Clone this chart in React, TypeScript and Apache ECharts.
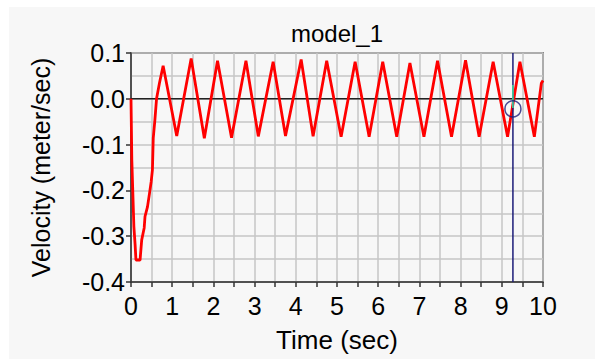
import React, { useEffect, useRef } from "react";
import * as echarts from "echarts";

// Time (sec) and velocity (meter/sec)
const timeSec: number[] = [
  0, 0.02, 0.07, 0.1, 0.12, 0.22, 0.26, 0.32, 0.34, 0.4, 0.45, 0.49, 0.52, 0.54, 0.58, 0.62, 0.69, 0.78,
  1.11, 1.46, 1.78, 2.1, 2.44, 2.79, 3.09, 3.45, 3.75, 4.13, 4.42, 4.75, 5.1, 5.44, 5.78, 6.11, 6.45,
  6.77, 7.11, 7.44, 7.78, 8.12, 8.45, 8.79, 9.14, 9.44, 9.79, 9.96, 10,
];
const velocity: number[] = [
  0, -0.134, -0.279, -0.319, -0.352, -0.352, -0.308, -0.282, -0.257, -0.236, -0.206, -0.181, -0.155,
  -0.086, -0.046, 0.0, 0.034, 0.072,
  -0.081, 0.088, -0.086, 0.083, -0.085, 0.083, -0.082, 0.081, -0.081, 0.086, -0.082, 0.083, -0.083,
  0.081, -0.083, 0.081, -0.083, 0.078, -0.083, 0.083, -0.083, 0.084, -0.083, 0.081, -0.083, 0.081,
  -0.083, 0.034, 0.04,
];

const xTicks = { min: 0, max: 10, interval: 1 };
const yTicks = { min: -0.4, max: 0.1, interval: 0.1 };

const cursorTime = 9.27;
const cursorValue = -0.022;
const cursorGreen: number[] = [0.03, -0.02];

const title = "model_1";
const xName = "Time (sec)";
const yName = "Velocity (meter/sec)";

const FONT = "'Liberation Sans', Arial, Helvetica, sans-serif";

export default function App() {
  const ref = useRef<HTMLDivElement>(null);

  useEffect(() => {
    document.body.style.margin = "0";
    if (!ref.current) return;
    const chart = echarts.init(ref.current, undefined, { renderer: "svg" });

    const lineData = timeSec.map((t, i) => [t, velocity[i]]);

    chart.setOption({
      animation: false,
      backgroundColor: "transparent",
      textStyle: { fontFamily: FONT },
      graphic: [
        {
          type: "text",
          x: 337,
          y: 33,
          style: {
            text: title,
            fontSize: 24,
            fontFamily: FONT,
            fill: "#000",
            align: "center",
            verticalAlign: "middle",
          },
        },
      ],
      grid: {
        left: 131,
        right: 52,
        top: 53,
        bottom: 77,
        show: true,
        borderColor: "#333",
        borderWidth: 1.5,
        backgroundColor: "transparent",
      },
      xAxis: {
        type: "value",
        min: xTicks.min,
        max: xTicks.max,
        interval: xTicks.interval,
        name: xName,
        nameLocation: "middle",
        nameGap: 45,
        nameTextStyle: { fontSize: 26, color: "#000", fontFamily: FONT },
        axisLine: { show: true, onZero: false, lineStyle: { color: "#333", width: 1.5 } },
        axisTick: { show: true, length: 5, lineStyle: { color: "#333", width: 1.5 } },
        minorTick: { show: true, splitNumber: 2, length: 5, lineStyle: { color: "#333", width: 1.5 } },
        splitLine: { show: true, lineStyle: { color: "#c6c6c6", width: 1.5 } },
        minorSplitLine: { show: true, lineStyle: { color: "#c6c6c6", width: 1.5 } },
        axisLabel: { fontSize: 25, color: "#000", margin: 11, fontFamily: FONT },
      },
      yAxis: {
        type: "value",
        min: yTicks.min,
        max: yTicks.max,
        interval: yTicks.interval,
        name: yName,
        nameLocation: "middle",
        nameGap: 78,
        nameTextStyle: { fontSize: 25, color: "#000", fontFamily: FONT },
        axisLine: { show: true, onZero: false, lineStyle: { color: "#333", width: 1.5 } },
        axisTick: { show: true, length: 5, lineStyle: { color: "#333", width: 1.5 } },
        minorTick: { show: false, splitNumber: 2 },
        splitLine: { show: true, lineStyle: { color: "#c6c6c6", width: 1.5 } },
        minorSplitLine: { show: true, lineStyle: { color: "#c6c6c6", width: 1.5 } },
        axisLabel: {
          fontSize: 25,
          color: "#000",
          margin: 6,
          fontFamily: FONT,
          formatter: (v: number) => (Math.abs(v) < 1e-9 ? "0.0" : v.toFixed(1)),
        },
      },
      series: [
        {
          type: "line",
          data: [
            [xTicks.min, 0],
            [xTicks.max, 0],
          ],
          symbol: "none",
          silent: true,
          lineStyle: { color: "#222", width: 1.5 },
          z: 1,
        },
        {
          type: "line",
          data: lineData,
          symbol: "none",
          silent: true,
          lineStyle: { color: "#ff0000", width: 2.8 },
          z: 3,
        },
        {
          type: "line",
          data: [
            [cursorTime, yTicks.max],
            [cursorTime, yTicks.min],
          ],
          symbol: "none",
          silent: true,
          lineStyle: { color: "#1c1c78", width: 1.5 },
          z: 4,
        },
        {
          type: "line",
          data: [
            [cursorTime, cursorGreen[0]],
            [cursorTime, cursorGreen[1]],
          ],
          symbol: "none",
          silent: true,
          lineStyle: { color: "#40e0a0", width: 1.5 },
          z: 5,
        },
        {
          type: "scatter",
          data: [[cursorTime, cursorValue]],
          symbol: "circle",
          symbolSize: 16,
          silent: true,
          itemStyle: { color: "transparent", borderColor: "#1c1c78", borderWidth: 1.5 },
          z: 6,
        },
      ],
    });

    return () => chart.dispose();
  }, []);

  return (
    <div style={{ position: "absolute", left: 0, top: 0, width: 595, height: 359, background: "#fff" }}>
      <div style={{ position: "absolute", left: 9, top: 7, width: 586, height: 352, background: "#f7f7f7" }} />
      <div ref={ref} style={{ position: "absolute", left: 0, top: 0, width: 595, height: 359 }} />
    </div>
  );
}
